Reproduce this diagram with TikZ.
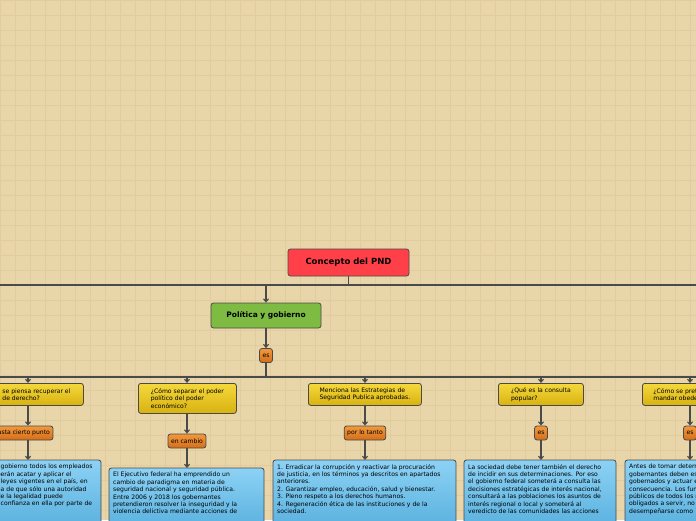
\documentclass[tikz,border=0pt]{standalone}
\usepackage{fontspec}
\setmainfont{DejaVu Sans}
\usetikzlibrary{arrows.meta}
\definecolor{bg}{HTML}{E9D5AA}
\definecolor{gridc}{HTML}{E2CC9C}
\definecolor{edge}{HTML}{4A4A4A}
\tikzset{
 box/.style={draw=edge,line width=0.8pt,rounded corners=2.5pt,inner sep=0pt},
 redbox/.style={box,fill={rgb,255:red,255;green,64;blue,72},font=\bfseries\fontsize{8.5}{10}\selectfont,minimum width=121pt,minimum height=27pt},
 greenbox/.style={box,fill={rgb,255:red,125;green,187;blue,66},font=\bfseries\fontsize{7.5}{9}\selectfont,minimum width=110pt,minimum height=25pt},
 ylw/.style={box,top color={rgb,255:red,245;green,216;blue,60},bottom color={rgb,255:red,216;green,178;blue,16},font=\fontsize{6.1}{7.6}\selectfont,align=left,anchor=north west,inner xsep=3pt,inner ysep=2pt},
 org/.style={box,top color={rgb,255:red,242;green,152;blue,60},bottom color={rgb,255:red,212;green,110;blue,26},font=\fontsize{6.1}{7}\selectfont,minimum height=14pt,inner xsep=3pt},
 blu/.style={box,top color={rgb,255:red,140;green,210;blue,245},bottom color={rgb,255:red,80;green,170;blue,218}},
 btxt/.style={font=\fontsize{6.1}{7.4}\selectfont,align=left,anchor=north west,inner sep=0pt},
 ln/.style={draw=edge,line width=1.1pt},
 arr/.style={ln,-{Straight Barb[length=3pt,width=5pt]}},
}
\begin{document}
\begin{tikzpicture}[x=1pt,y=-1pt]
\useasboundingbox (0,0) rectangle (696,520);
\clip (0,0) rectangle (696,520);
\fill[bg] (0,0) rectangle (696,520);
\draw[gridc,line width=0.4pt] (0,0) grid[step=15pt] (696,520);
% top
\node[redbox] (root) at (348.5,262.5) {Concepto del PND};
\coordinate (h1) at (348.5,285);
\draw[ln] (root.south) -- (h1);
\draw[ln] (-5,285) -- (700,285);
\node[greenbox] (pol) at (266,315.5) {Política y gobierno};
\coordinate (p1) at (266,285);
\draw[arr] (p1) -- (pol.north);
\node[org] (es0) at (266,355.5) {es};
\draw[arr] (pol.south) -- (es0.north);
\coordinate (h2) at (266,377);
\draw[ln,line width=2pt] (es0.south) -- (h2);
\draw[ln] (-5,377) -- (700,377);
% yellow
\node[ylw,minimum width=94pt,minimum height=22pt] (y1) at (-11,383) {\llap{¿Cómo }se piensa recuperar el\\ \llap{el estado }de derecho?};
\node[ylw,minimum width=98pt,minimum height=30pt] (y2) at (138,383) {¿Cómo separar el poder\\ político del poder\\ económico?};
\node[ylw,minimum width=113pt,minimum height=22pt] (y3) at (308,383) {Menciona las Estrategias de\\ Seguridad Publica aprobadas.};
\node[ylw,minimum width=85pt,minimum height=22pt] (y4) at (498,383) {¿Qué es la consulta\\ popular?};
\node[ylw,minimum width=90pt,minimum height=22pt] (y5) at (642,383) {¿Cómo se pretende\\ mandar obedeciendo?};
\coordinate (ty1) at (28,377);
\coordinate (ty2) at (187,377);
\coordinate (ty3) at (365,377);
\coordinate (ty4) at (541,377);
\coordinate (ty5) at (690,377);
\draw[arr] (ty1) -- (ty1 |- y1.north);
\draw[arr] (ty2) -- (ty2 |- y2.north);
\draw[arr] (ty3) -- (ty3 |- y3.north);
\draw[arr] (ty4) -- (ty4 |- y4.north);
\draw[arr] (ty5) -- (ty5 |- y5.north);
% orange
\node[org] (o1) at (22,433) {hasta cierto punto};
\node[org] (o2) at (187,441) {en cambio};
\node[org] (o3) at (365,433) {por lo tanto};
\node[org] (o4) at (541,433) {es};
\node[org] (o5) at (690,433) {es};
\draw[arr] (ty1 |- y1.south) -- (ty1 |- o1.north);
\draw[arr] (y2.south -| o2) -- (o2.north);
\draw[arr] (y3.south -| o3) -- (o3.north);
\draw[arr] (y4.south -| o4) -- (o4.north);
\draw[arr] (y5.south -| o5) -- (o5.north);
% blue
\path[blu,draw=edge,line width=0.8pt,rounded corners=2.5pt] (-11,460) rectangle (101,540);
\path[blu,draw=edge,line width=0.8pt,rounded corners=2.5pt] (109,468) rectangle (264,540);
\path[blu,draw=edge,line width=0.8pt,rounded corners=2.5pt] (273,460) rectangle (456,540);
\path[blu,draw=edge,line width=0.8pt,rounded corners=2.5pt] (464,460) rectangle (616,540);
\path[blu,draw=edge,line width=0.8pt,rounded corners=2.5pt] (625,460) rectangle (760,540);
\node[btxt] (b1) at (0.5,464) {\llap{En el }gobierno todos los empleados\\ \llap{públicos deb}erán acatar y aplicar el\\ \llap{conjunto de }leyes vigentes en el país, en\\ \llap{congruencia con la ide}a de que sólo una autoridad\\ \llap{apegada a l}e la legalidad puede\\ \llap{generar la }confianza en ella por parte de};
\node[btxt] (b2) at (113,472) {El Ejecutivo federal ha emprendido un\\ cambio de paradigma en materia de\\ seguridad nacional y seguridad pública.\\ Entre 2006 y 2018 los gobernantes\\ pretendieron resolver la inseguridad y la\\ violencia delictiva mediante acciones de};
\node[btxt] (b3) at (277,464) {1. Erradicar la corrupción y reactivar la procuración\\ de justicia, en los términos ya descritos en apartados\\ anteriores.\\ 2. Garantizar empleo, educación, salud y bienestar.\\ 3. Pleno respeto a los derechos humanos.\\ 4. Regeneración ética de las instituciones y de la\\ sociedad.};
\node[btxt] (b4) at (468,464) {La sociedad debe tener también el derecho\\ de incidir en sus determinaciones. Por eso\\ el gobierno federal someterá a consulta las\\ decisiones estratégicas de interés nacional,\\ consultará a las poblaciones los asuntos de\\ interés regional o local y someterá al\\ veredicto de las comunidades las acciones};
\node[btxt] (b5) at (629,464) {Antes de tomar determinaciones, los\\ gobernantes deben escuchar a los\\ gobernados y actuar en\\ consecuencia. Los funcionarios\\ públicos de todos los niveles están\\ obligados a servir, no a servirse, y\\ desempeñarse como};
\draw[arr] (ty1 |- o1.south) -- (28,460);
\draw[arr] (o2.south) -- (187,468);
\draw[arr] (o3.south) -- (365,460);
\draw[arr] (o4.south) -- (541,460);
\draw[arr] (o5.south) -- (690,460);
\end{tikzpicture}
\end{document}
